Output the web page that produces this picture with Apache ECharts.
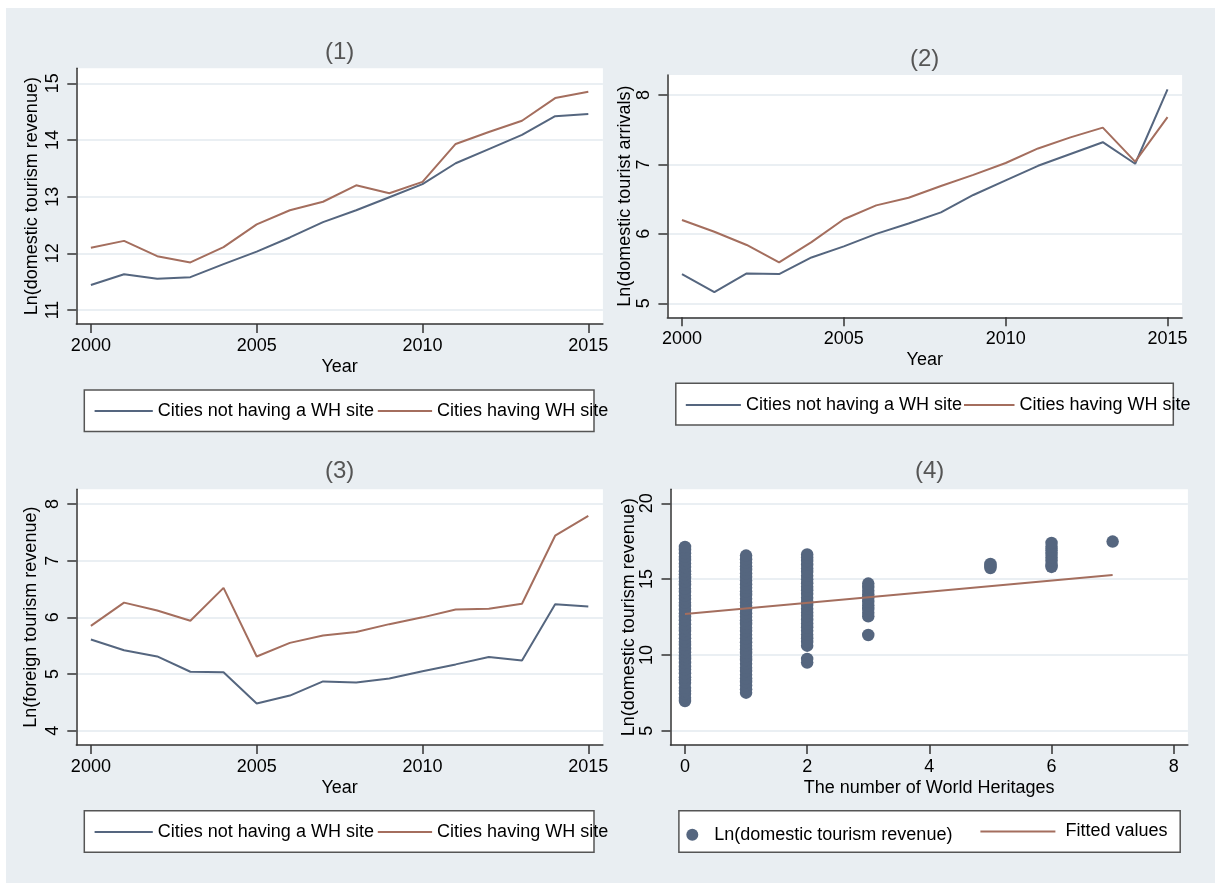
<!DOCTYPE html>
<html>
<head>
<meta charset="utf-8">
<script src="https://cdn.jsdelivr.net/npm/echarts@6/dist/echarts.min.js"></script>
<style>
  html, body { margin: 0; padding: 0; background: #ffffff; }
  #chart { width: 1215px; height: 883px; }
</style>
</head>
<body>
<div id="chart"></div>
<script>
// Years covered by the panel series
const years = [2000, 2001, 2002, 2003, 2004, 2005, 2006, 2007, 2008, 2009, 2010, 2011, 2012, 2013, 2014, 2015];
const yearTicks = [2000, 2005, 2010, 2015];

// (1) Ln(domestic tourism revenue)
const revenueNoWH = [11.44, 11.63, 11.55, 11.58, 11.81, 12.03, 12.28, 12.55, 12.76, 12.99, 13.22, 13.59, 13.84, 14.09, 14.42, 14.46];
const revenueWH   = [12.10, 12.22, 11.95, 11.84, 12.11, 12.51, 12.76, 12.91, 13.20, 13.06, 13.26, 13.93, 14.14, 14.34, 14.74, 14.85];
const revenueTicks = [11, 12, 13, 14, 15];

// (2) Ln(domestic tourist arrivals)
const arrivalsNoWH = [5.42, 5.16, 5.43, 5.42, 5.66, 5.82, 6.00, 6.15, 6.31, 6.56, 6.77, 6.98, 7.15, 7.32, 7.01, 8.08];
const arrivalsWH   = [6.20, 6.03, 5.84, 5.59, 5.88, 6.21, 6.41, 6.52, 6.69, 6.85, 7.02, 7.23, 7.39, 7.53, 7.04, 7.68];
const arrivalsTicks = [5, 6, 7, 8];

// (3) Ln(foreign tourism revenue)
const foreignNoWH = [5.61, 5.42, 5.31, 5.04, 5.03, 4.48, 4.62, 4.87, 4.85, 4.92, 5.05, 5.17, 5.30, 5.24, 6.23, 6.19];
const foreignWH   = [5.85, 6.26, 6.12, 5.94, 6.52, 5.31, 5.55, 5.68, 5.74, 5.88, 6.00, 6.14, 6.15, 6.24, 7.44, 7.79];
const foreignTicks = [4, 5, 6, 7, 8];

// (4) city observations grouped by number of World Heritage sites
const heritageCount = [0, 1, 2, 3, 5, 6, 7];
const revenueByCount = [
  [6.96, 7.18, 7.44, 7.61, 7.83, 8.17, 8.36, 8.52, 8.79, 9.04, 9.21, 9.47, 9.73, 9.92, 10.18, 10.39, 10.66, 10.87, 11.09, 11.34, 11.58, 11.77, 12.02, 12.29, 12.51, 12.74, 12.96, 13.23, 13.45, 13.68, 13.91, 14.15, 14.37, 14.62, 14.84, 15.07, 15.31, 15.52, 15.79, 16.03, 16.26, 16.48, 16.71, 16.93, 17.12],
  [7.51, 7.73, 7.98, 8.21, 8.44, 8.69, 8.93, 9.15, 9.42, 9.66, 9.88, 10.13, 10.37, 10.61, 10.84, 11.08, 11.33, 11.57, 11.79, 12.04, 12.28, 12.52, 12.75, 12.99, 13.24, 13.46, 13.71, 13.95, 14.18, 14.43, 14.66, 14.90, 15.13, 15.37, 15.61, 15.84, 16.08, 16.31, 16.55],
  [9.49, 9.73, 10.61, 10.85, 11.10, 11.34, 11.59, 11.82, 12.07, 12.31, 12.56, 12.80, 13.04, 13.29, 13.52, 13.77, 14.01, 14.26, 14.50, 14.73, 14.98, 15.22, 15.47, 15.70, 15.94, 16.19, 16.42, 16.62],
  [11.31, 12.54, 12.78, 13.03, 13.27, 13.50, 13.75, 13.99, 14.23, 14.47, 14.70],
  [15.73, 15.86, 16.00],
  [15.80, 15.93, 16.21, 16.43, 16.66, 16.90, 17.13, 17.38],
  [17.47]
];
const fittedX = [0, 7];
const fittedY = [12.70, 15.27];
const heritageTicks = [0, 2, 4, 6, 8];
const scatterTicks = [5, 10, 15, 20];

const NAME_NO = 'Cities not having a WH site';
const NAME_WH = 'Cities having WH site';
const NAME_SC = 'Ln(domestic tourism revenue)';
const NAME_FIT = 'Fitted values';

const FONT = "'Liberation Sans', Arial, Helvetica, sans-serif";
const BLUE = '#55667f';
const BROWN = '#a46e5e';
const AXIS = '#333333';
const GRIDLINE = '#e3eaef';
const BG = '#e9eef2';

function pairs(xs, ys) { return xs.map((x, i) => [x, ys[i]]); }
const plainNumber = v => String(v);

function xAxisOf(gridIndex, min, max, ticks, name) {
  return {
    type: 'value', gridIndex, min, max,
    name, nameLocation: 'middle', nameGap: 34,
    nameTextStyle: { fontFamily: FONT, fontSize: 18, color: '#000' },
    axisLine: { show: true, onZero: false, lineStyle: { color: AXIS, width: 1.5 } },
    axisTick: { show: true, length: 9, customValues: ticks, lineStyle: { color: AXIS, width: 1.5 } },
    axisLabel: { customValues: ticks, formatter: plainNumber, margin: 13, fontFamily: FONT, fontSize: 18, color: '#000' },
    splitLine: { show: false }
  };
}

function yAxisOf(gridIndex, min, max, ticks, name, nameGap) {
  return {
    type: 'value', gridIndex, min, max,
    name, nameLocation: 'middle', nameGap, nameRotate: 90,
    nameTextStyle: { fontFamily: FONT, fontSize: 18, color: '#000' },
    axisLine: { show: true, onZero: false, lineStyle: { color: AXIS, width: 1.5 } },
    axisTick: { show: true, length: 9, customValues: ticks, lineStyle: { color: AXIS, width: 1.5 } },
    axisLabel: { customValues: ticks, formatter: plainNumber, rotate: 90, margin: 14, fontFamily: FONT, fontSize: 18, color: '#000' },
    splitLine: { show: true, lineStyle: { color: GRIDLINE, width: 1.5 } }
  };
}

function lineSeries(name, xi, yi, values, color) {
  return {
    type: 'line', name, xAxisIndex: xi, yAxisIndex: yi,
    data: pairs(years, values), symbol: 'none', silent: true,
    lineStyle: { color, width: 2 }, itemStyle: { color }
  };
}

// A legend entry drawn as a flat 2px bar so it reads as a line key;
// the text box is taller than the bar, so the block sits 8px above the line
function lineKey(name, left, lineY, width, extra) {
  return Object.assign({
    data: [name], left, top: lineY - 8, itemWidth: width, itemHeight: 2, icon: 'rect',
    padding: 0, selectedMode: false, orient: 'horizontal',
    textStyle: { fontFamily: FONT, fontSize: 18, color: '#000' }
  }, extra || {});
}

function titleOf(text, cx, top) {
  return {
    text, left: cx, top, textAlign: 'center', padding: 0,
    textStyle: { fontFamily: FONT, fontSize: 24, fontWeight: 'normal', color: '#555555' }
  };
}

function legendBox(x, y, w, h) {
  return { type: 'rect', shape: { x, y, width: w, height: h },
           style: { fill: '#ffffff', stroke: '#555555', lineWidth: 1.5 }, silent: true };
}

const scatterData = [];
heritageCount.forEach((c, i) => revenueByCount[i].forEach(v => scatterData.push([c, v])));

const gridBase = { show: true, backgroundColor: '#ffffff', borderWidth: 0, containLabel: false };

const option = {
  backgroundColor: BG,
  animation: false,
  title: [
    titleOf('(1)', 339.6, 40),
    titleOf('(2)', 924.6, 47.3),
    titleOf('(3)', 339.6, 459.7),
    titleOf('(4)', 929.6, 459.7)
  ],
  grid: [
    Object.assign({ left: 76.3, top: 68.3, width: 526.6, height: 255.7 }, gridBase),
    Object.assign({ left: 667.4, top: 75, width: 514.7, height: 242.3 }, gridBase),
    Object.assign({ left: 76.3, top: 489.3, width: 526.6, height: 255.7 }, gridBase),
    Object.assign({ left: 670.5, top: 489.3, width: 517.4, height: 255.7 }, gridBase)
  ],
  xAxis: [
    xAxisOf(0, 1999.56, 2015.44, yearTicks, 'Year'),
    xAxisOf(1, 1999.55, 2015.45, yearTicks, 'Year'),
    xAxisOf(2, 1999.56, 2015.44, yearTicks, 'Year'),
    xAxisOf(3, -0.237, 8.232, heritageTicks, 'The number of World Heritages')
  ],
  yAxis: [
    yAxisOf(0, 10.753, 15.265, revenueTicks, 'Ln(domestic tourism revenue)', 35),
    yAxisOf(1, 4.798, 8.288, arrivalsTicks, 'Ln(domestic tourist arrivals)', 33),
    yAxisOf(2, 3.748, 8.259, foreignTicks, 'Ln(foreign tourism revenue)', 36),
    yAxisOf(3, 4.057, 20.92, scatterTicks, 'Ln(domestic tourism revenue)', 32)
  ],
  graphic: [
    { type: 'rect', shape: { x: 0, y: 0, width: 1215, height: 8 }, style: { fill: '#ffffff' }, silent: true },
    { type: 'rect', shape: { x: 0, y: 0, width: 6, height: 883 }, style: { fill: '#ffffff' }, silent: true },
    legendBox(84.3, 390, 509.7, 41.6),
    legendBox(675.8, 383.3, 497.5, 41.7),
    legendBox(84.3, 810.7, 509.7, 41.6),
    legendBox(678.9, 810.7, 501.3, 41.6)
  ],
  legend: [
    lineKey(NAME_NO, 94.6, 410, 58.2),
    lineKey(NAME_WH, 377.8, 410, 54.3),
    lineKey(NAME_NO, 685.8, 404, 55.1),
    lineKey(NAME_WH, 964, 404, 50.5),
    lineKey(NAME_NO, 94.6, 831, 58.2),
    lineKey(NAME_WH, 377.8, 831, 54.3),
    {
      data: [NAME_SC], left: 686.3, top: 825.7, itemWidth: 12, itemHeight: 12, icon: 'circle',
      padding: 0, selectedMode: false,
      textStyle: { fontFamily: FONT, fontSize: 18, color: '#000', padding: [0, 0, 0, 11] }
    },
    lineKey(NAME_FIT, 980.4, 830.5, 75,
      { textStyle: { fontFamily: FONT, fontSize: 18, color: '#000', padding: [0, 0, 0, 5] } })
  ],
  series: [
    lineSeries(NAME_NO, 0, 0, revenueNoWH, BLUE),
    lineSeries(NAME_WH, 0, 0, revenueWH, BROWN),
    lineSeries(NAME_NO, 1, 1, arrivalsNoWH, BLUE),
    lineSeries(NAME_WH, 1, 1, arrivalsWH, BROWN),
    lineSeries(NAME_NO, 2, 2, foreignNoWH, BLUE),
    lineSeries(NAME_WH, 2, 2, foreignWH, BROWN),
    {
      type: 'scatter', name: NAME_SC, xAxisIndex: 3, yAxisIndex: 3,
      data: scatterData, symbol: 'circle', symbolSize: 12.5, silent: true,
      itemStyle: { color: BLUE, opacity: 1 }
    },
    {
      type: 'line', name: NAME_FIT, xAxisIndex: 3, yAxisIndex: 3,
      data: pairs(fittedX, fittedY), symbol: 'none', silent: true, z: 3,
      lineStyle: { color: BROWN, width: 2 }, itemStyle: { color: BROWN }
    }
  ]
};

const chart = echarts.init(document.getElementById('chart'), null, { renderer: 'canvas' });
chart.setOption(option);
</script>
</body>
</html>
